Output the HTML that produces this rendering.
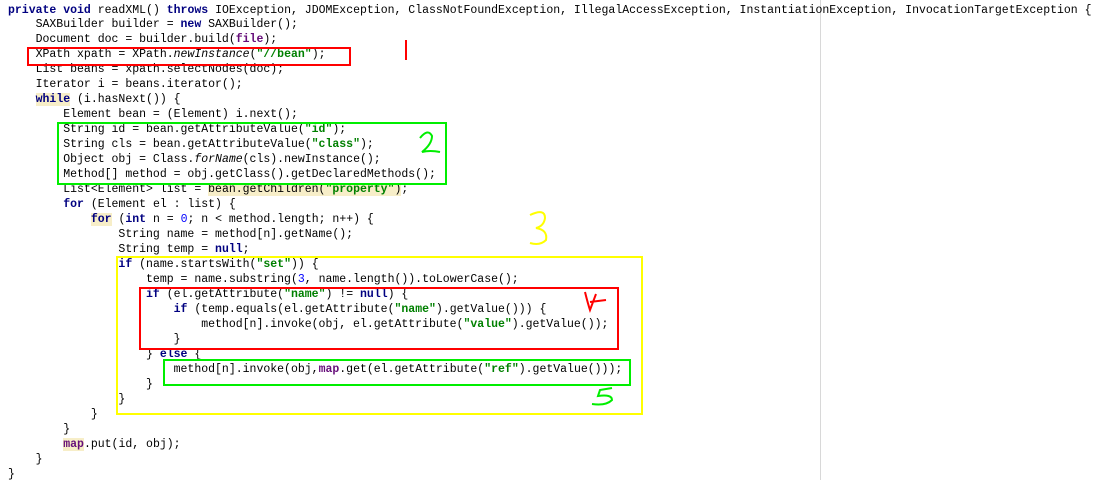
<!DOCTYPE html>
<html><head><meta charset="utf-8"><style>
body{margin:0;width:1107px;height:480px;background:#fff;position:relative;overflow:hidden}
pre{position:absolute;left:8px;top:3.5px;margin:0;font-family:"Liberation Mono",monospace;font-size:11.5px;line-height:14.97px;color:#000}
.k{color:#000080;font-weight:bold}
.s{color:#008000;font-weight:bold}
.f{color:#660e7a;font-weight:bold}
.n{color:#0000ff}
.h{background:#f7eec8}
i{font-style:italic}
.b{position:absolute;box-sizing:border-box;border:2px solid}
.vl{position:absolute;left:820px;top:0;width:1px;height:480px;background:#d8d8d8}
</style></head><body>
<div class="vl"></div>
<pre><span class="k">private void</span> readXML() <span class="k">throws</span> IOException, JDOMException, ClassNotFoundException, IllegalAccessException, InstantiationException, InvocationTargetException {
    SAXBuilder builder = <span class="k">new</span> SAXBuilder();
    Document doc = builder.build(<span class="f">file</span>);
    XPath xpath = XPath.<i>newInstance</i>(<span class="s">"//bean"</span>);
    List beans = xpath.selectNodes(doc);
    Iterator i = beans.iterator();
    <span class="k h">while</span> (i.hasNext()) {
        Element bean = (Element) i.next();
        String id = bean.getAttributeValue(<span class="s">"id"</span>);
        String cls = bean.getAttributeValue(<span class="s">"class"</span>);
        Object obj = Class.<i>forName</i>(cls).newInstance();
        Method[] method = obj.getClass().getDeclaredMethods();
        List&lt;Element&gt; list = <span class="h">bean.getChildren(<span class="s">"property"</span>)</span>;
        <span class="k">for</span> (Element el : list) {
            <span class="k h">for</span> (<span class="k">int</span> n = <span class="n">0</span>; n &lt; method.length; n++) {
                String name = method[n].getName();
                String temp = <span class="k">null</span>;
                <span class="k">if</span> (name.startsWith(<span class="s">"set"</span>)) {
                    temp = name.substring(<span class="n">3</span>, name.length()).toLowerCase();
                    <span class="k">if</span> (el.getAttribute(<span class="s">"name"</span>) != <span class="k">null</span>) {
                        <span class="k">if</span> (temp.equals(el.getAttribute(<span class="s">"name"</span>).getValue())) {
                            method[n].invoke(obj, el.getAttribute(<span class="s">"value"</span>).getValue());
                        }
                    } <span class="k">else</span> {
                        method[n].invoke(obj,<span class="f">map</span>.get(el.getAttribute(<span class="s">"ref"</span>).getValue()));
                    }
                }
            }
        }
        <span class="f h">map</span>.put(id, obj);
    }
}</pre>
<div class="b" style="left:27px;top:47px;width:324px;height:19px;border-color:#f00"></div>
<div class="b" style="left:57px;top:122px;width:390px;height:63px;border-color:#0e0"></div>
<div class="b" style="left:116px;top:256px;width:527px;height:159px;border-color:#ff0"></div>
<div class="b" style="left:139px;top:287px;width:480px;height:63px;border-color:#f00"></div>
<div class="b" style="left:163px;top:359px;width:468px;height:27px;border-color:#0e0"></div>
<svg style="position:absolute;left:0;top:0" width="1107" height="480" fill="none" stroke-width="2">
<path d="M406 40 L406 60" stroke="#f00"/>
<path d="M420 138 Q428 128 432 136 Q432 144 422 152 Q430 150 440 152" stroke="#0e0"/>
<path d="M530 215 Q545 208 545 218 Q544 226 536 228 Q548 230 546 240 Q540 246 530 243" stroke="#ff0"/>
<path d="M585 292 Q588 304 590 310 L596 294 M590 302 L606 300" stroke="#f00"/>
<path d="M612 388 L600 390 L598 396 Q612 394 612 400 Q606 406 592 404" stroke="#0e0"/>
</svg>
</body></html>
